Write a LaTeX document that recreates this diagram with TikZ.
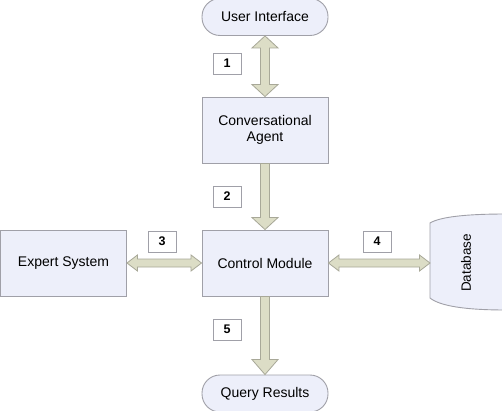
\documentclass[tikz,border=0pt]{standalone}
\usepackage{fontspec}
\setmainfont{Liberation Sans}
\usetikzlibrary{calc}
\definecolor{boxfill}{HTML}{EDEFFA}
\definecolor{boxline}{HTML}{A0A0A8}
\definecolor{arrfill}{HTML}{DCDDC6}
\definecolor{arrline}{HTML}{A8A898}
\tikzset{
  block/.style={draw=boxline, fill=boxfill, line width=0.9pt, minimum width=126pt, minimum height=66pt, inner sep=0pt, align=center, font=\fontsize{14}{16}\selectfont},
  pill/.style={draw=boxline, fill=boxfill, line width=0.9pt, minimum width=126pt, minimum height=37pt, rounded corners=18pt, inner sep=0pt, font=\fontsize{14}{16}\selectfont},
  numbox/.style={draw=boxline, fill=white, line width=0.9pt, minimum width=28pt, minimum height=21pt, inner sep=0pt, font=\fontsize{12.5}{14}\selectfont\bfseries},
  fatarrow/.style={draw=arrline, fill=arrfill, line width=0.8pt, line join=miter},
}
% vertical double arrow: top point, bottom point
\newcommand\vdblarrow[2]{\draw[fatarrow] let \p1=(#1), \p2=(#2) in
  (\x1,\y1) -- (\x1+13pt,\y1-12pt) -- (\x1+4.5pt,\y1-12pt) -- (\x1+4.5pt,\y2+12pt) -- (\x1+13pt,\y2+12pt) -- (\x1,\y2) -- (\x1-13pt,\y2+12pt) -- (\x1-4.5pt,\y2+12pt) -- (\x1-4.5pt,\y1-12pt) -- (\x1-13pt,\y1-12pt) -- cycle;}
% vertical single arrow pointing down: start, tip, head length
\newcommand\vdownarrow[3]{\draw[fatarrow] let \p1=(#1), \p2=(#2) in
  (\x1-4.5pt,\y1) -- (\x1+4.5pt,\y1) -- (\x1+4.5pt,\y2+#3) -- (\x1+13pt,\y2+#3) -- (\x1,\y2) -- (\x1-13pt,\y2+#3) -- (\x1-4.5pt,\y2+#3) -- cycle;}
% horizontal double arrow: left point, right point
\newcommand\hdblarrow[2]{\draw[fatarrow] let \p1=(#1), \p2=(#2) in
  (\x1,\y1) -- (\x1+10.5pt,\y1+8pt) -- (\x1+10.5pt,\y1+4pt) -- (\x2-10.5pt,\y1+4pt) -- (\x2-10.5pt,\y1+8pt) -- (\x2,\y1) -- (\x2-10.5pt,\y1-8pt) -- (\x2-10.5pt,\y1-4pt) -- (\x1+10.5pt,\y1-4pt) -- (\x1+10.5pt,\y1-8pt) -- cycle;}
\begin{document}
\begin{tikzpicture}[x=1pt,y=1pt]
\useasboundingbox (0,0) rectangle (502,410);
\fill[white] (0,0) rectangle (502,410);
% nodes
\node[pill] (ui) at (265,393) {User Interface};
\node[block] (ca) at (265,280) {Conversational\\Agent};
\node[block] (cm) at (265,147) {Control Module};
\node[block] (es) at (63.5,147) {Expert System};
\node[pill] (qr) at (265,16.5) {Query Results};
% database cylinder
\draw[draw=boxline, fill=boxfill, line width=0.9pt]
  (430,187) .. controls (440,193) and (465,196) .. (506,196)
  -- (506,100) .. controls (465,100) and (440,104) .. (430,112) -- cycle;
\coordinate (db) at (430,147);
\node[rotate=90, font=\fontsize{13.5}{15}\selectfont] (dbtext) at (466,147) {Database};
% arrows
\vdblarrow{ui.south}{ca.north}
\vdownarrow{ca.south}{cm.north}{12pt}
\vdownarrow{cm.south}{qr.north}{15pt}
\hdblarrow{es.east}{cm.west}
\hdblarrow{cm.east}{db}
% labels
\node[numbox] (n1) at (227,346.5) {1};
\node[numbox] (n2) at (227,213.5) {2};
\node[numbox] (n3) at (162,168.5) {3};
\node[numbox] (n4) at (377,168.5) {4};
\node[numbox] (n5) at (227,80.5) {5};
\end{tikzpicture}
\end{document}
